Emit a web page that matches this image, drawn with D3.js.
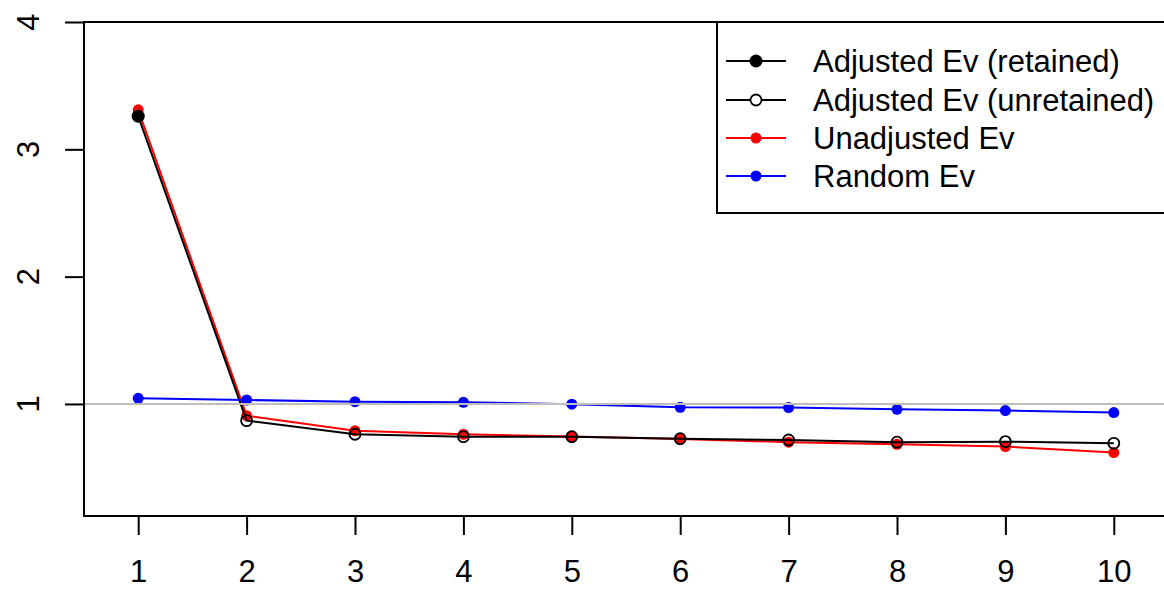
<!DOCTYPE html>
<html>
<head>
<meta charset="utf-8">
<script src="https://cdn.jsdelivr.net/npm/d3@7"></script>
<style>
  html, body { margin: 0; padding: 0; background: #fff; }
  svg { display: block; }
  text { font-family: "Liberation Sans", Arial, sans-serif; fill: #000; }
</style>
</head>
<body>
<svg id="chart" width="1164" height="589"></svg>
<script>
// ---- data ----
const components = [1, 2, 3, 4, 5, 6, 7, 8, 9, 10];
const adjustedEv = [3.26, 0.869, 0.762, 0.743, 0.743, 0.727, 0.717, 0.700, 0.704, 0.691];
const unadjustedEv = [3.31, 0.908, 0.790, 0.762, 0.745, 0.725, 0.700, 0.683, 0.665, 0.618];
const randomEv = [1.044, 1.031, 1.018, 1.013, 0.998, 0.974, 0.972, 0.958, 0.948, 0.932];
const retainedCount = 1;
const xTicks = [1, 2, 3, 4, 5, 6, 7, 8, 9, 10];
const yTicks = [1, 2, 3, 4];
const legendLabels = ["Adjusted Ev (retained)", "Adjusted Ev (unretained)", "Unadjusted Ev", "Random Ev"];

(function () {
// ---- layout ----
const svg = d3.select("#chart");
const pLeft = 84, pRight = 1168, pTop = 22, pBottom = 516;
const fontSize = 31;

const x = d3.scaleLinear().domain([0.5, 10.5]).range([pLeft, pRight]);
const y = d3.scaleLinear().domain([0.12, 4]).range([pBottom, pTop]);

const pts = (vals) => components.map((c, i) => ({ x: c, y: vals[i] }));
const line = d3.line().x(d => x(d.x)).y(d => y(d.y));

// x axis
const xAxis = d3.axisBottom(x).tickValues(xTicks).tickSize(19).tickPadding(25).tickFormat(d3.format("d"));
const gx = svg.append("g").attr("transform", `translate(0,${pBottom})`).call(xAxis);
gx.select(".domain").remove();
gx.selectAll(".tick line").attr("stroke", "#000").attr("stroke-width", 2);
gx.selectAll(".tick text").attr("font-size", fontSize).attr("font-family", "Liberation Sans, Arial, sans-serif").attr("fill", "#000");

// y axis
const yAxis = d3.axisLeft(y).tickValues(yTicks).tickSize(19).tickFormat("");
const gy = svg.append("g").attr("transform", `translate(${pLeft},0)`).call(yAxis);
gy.select(".domain").remove();
gy.selectAll(".tick line").attr("stroke", "#000").attr("stroke-width", 2);
svg.append("g").selectAll("text").data(yTicks).join("text")
  .attr("transform", d => `translate(39,${y(d)}) rotate(-90)`)
  .attr("text-anchor", "middle")
  .attr("font-size", fontSize)
  .text(d => d);

// series: unadjusted (red)
svg.append("path").datum(pts(unadjustedEv)).attr("d", line)
  .attr("fill", "none").attr("stroke", "#ff0000").attr("stroke-width", 2);
svg.append("g").selectAll("circle").data(pts(unadjustedEv)).join("circle")
  .attr("cx", d => x(d.x)).attr("cy", d => y(d.y)).attr("r", 5.5).attr("fill", "#ff0000");

// series: adjusted (black)
svg.append("path").datum(pts(adjustedEv)).attr("d", line)
  .attr("fill", "none").attr("stroke", "#000").attr("stroke-width", 2);
const adj = pts(adjustedEv);
svg.append("g").selectAll("circle").data(adj.slice(0, retainedCount)).join("circle")
  .attr("cx", d => x(d.x)).attr("cy", d => y(d.y)).attr("r", 6.5).attr("fill", "#000");
svg.append("g").selectAll("circle").data(adj.slice(retainedCount)).join("circle")
  .attr("cx", d => x(d.x)).attr("cy", d => y(d.y)).attr("r", 5.5)
  .attr("fill", "none").attr("stroke", "#000").attr("stroke-width", 1.8);

// series: random (blue)
svg.append("path").datum(pts(randomEv)).attr("d", line)
  .attr("fill", "none").attr("stroke", "#0000ff").attr("stroke-width", 2);
svg.append("g").selectAll("circle").data(pts(randomEv)).join("circle")
  .attr("cx", d => x(d.x)).attr("cy", d => y(d.y)).attr("r", 5.5).attr("fill", "#0000ff");

// reference line at 1
svg.append("line").attr("x1", pLeft).attr("x2", pRight).attr("y1", y(1)).attr("y2", y(1))
  .attr("stroke", "#bebebe").attr("stroke-width", 2);

// plot box
svg.append("rect").attr("x", pLeft).attr("y", pTop).attr("width", pRight - pLeft).attr("height", pBottom - pTop)
  .attr("fill", "none").attr("stroke", "#000").attr("stroke-width", 2);

// legend
const lgLeft = 717, lgTop = 22, lgBottom = 213;
svg.append("rect").attr("x", lgLeft).attr("y", lgTop).attr("width", pRight - lgLeft).attr("height", lgBottom - lgTop)
  .attr("fill", "#fff").attr("stroke", "#000").attr("stroke-width", 2);
const legendColors = ["#000", "#000", "#ff0000", "#0000ff"];
const rowY = [61, 100, 138, 176];
const lg = svg.append("g").selectAll("g").data(legendLabels).join("g")
  .attr("transform", (d, i) => `translate(0,${rowY[i]})`);
lg.append("line").attr("x1", 726).attr("x2", 786).attr("y1", 0).attr("y2", 0)
  .attr("stroke", (d, i) => legendColors[i]).attr("stroke-width", 2);
lg.append("circle").attr("cx", 756).attr("cy", 0)
  .attr("r", (d, i) => i === 0 ? 6.5 : 5.5)
  .attr("fill", (d, i) => i === 1 ? "#fff" : legendColors[i])
  .attr("stroke", (d, i) => i === 1 ? "#000" : "none").attr("stroke-width", 1.8);
lg.append("text").attr("x", 813).attr("y", 11).attr("font-size", fontSize).text(d => d);
})();
</script>
</body>
</html>
